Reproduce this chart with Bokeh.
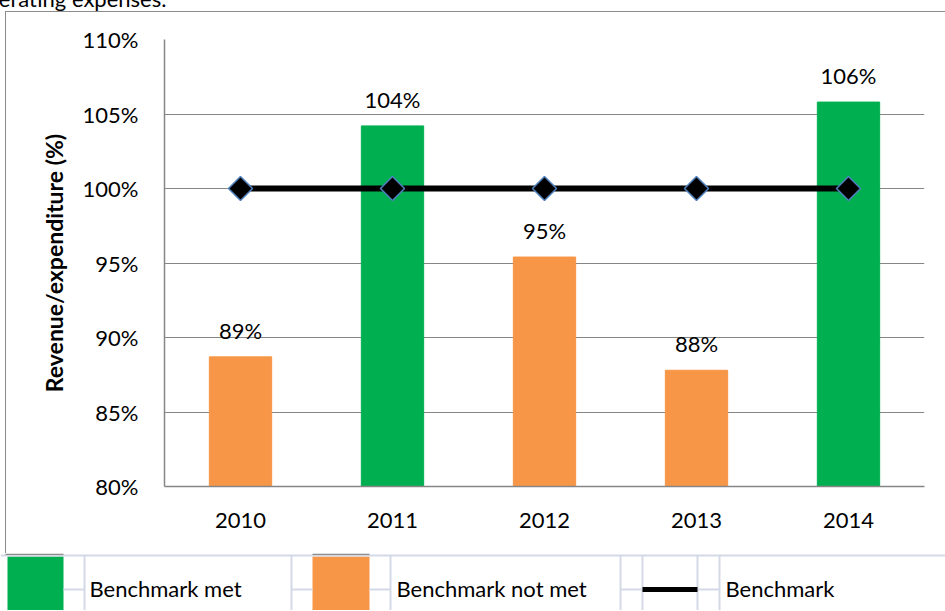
from bokeh.plotting import figure
from bokeh.models import (FactorRange, Range1d, PrintfTickFormatter, FixedTicker,
                          ColumnDataSource, LabelSet, Div)
from bokeh.layouts import column
from bokeh.embed import file_html
from bokeh.resources import INLINE
from bokeh.core.properties import value

# ---- data ----
years = ["2010", "2011", "2012", "2013", "2014"]
ratios = [88.7, 104.2, 95.4, 87.8, 105.8]
ratio_labels = ["89%", "104%", "95%", "88%", "106%"]
benchmark = [100, 100, 100, 100, 100]
status = ["Benchmark not met", "Benchmark met", "Benchmark not met",
          "Benchmark not met", "Benchmark met"]
legend_labels = ["Benchmark met", "Benchmark not met", "Benchmark"]
y_ticks = [80, 85, 90, 95, 100, 105, 110]
y_title = "Revenue/expenditure (%)"
top_text = "operating expenses."

# ---- styles ----
FONT = "Lato"
GREEN = "#00b050"
ORANGE = "#f79646"
GRID = "#868686"
TABLE = "#d3dae6"
status_color = {"Benchmark met": GREEN, "Benchmark not met": ORANGE}
colors = [status_color[s] for s in status]

src = ColumnDataSource(dict(years=years, ratios=ratios, labels=ratio_labels,
                            colors=colors, bench=benchmark))

p = figure(x_range=FactorRange(*years), y_range=Range1d(80, 110),
           width=940, height=542, output_backend="svg", toolbar_location=None,
           min_border_left=158, min_border_right=22, min_border_top=27,
           min_border_bottom=68, margin=(0, 0, 0, 5))
p.frame_align = False
p.styles = {"border-top": "1.5px solid #8c8c8c", "border-left": "1.5px solid #8c8c8c",
            "box-sizing": "border-box"}
p.outline_line_color = None
p.background_fill_color = "white"
p.border_fill_color = "white"

p.vbar(x="years", top="ratios", bottom=80, width=0.41, color="colors", source=src)
p.line(x="years", y="bench", line_color="black", line_width=6, source=src)
p.scatter(x="years", y="bench", marker="square", angle=0.7854, size=17,
          fill_color="black", line_color="#4f81bd", line_width=1.5, source=src)

labels = LabelSet(x="years", y="ratios", text="labels", source=src, y_offset=18,
                  text_align="center", text_baseline="alphabetic",
                  text_font=value(FONT), text_font_size="22px", text_color="black")
p.add_layout(labels)

p.xgrid.grid_line_color = None
p.ygrid.grid_line_color = GRID
p.ygrid.grid_line_width = 1.2

p.yaxis.ticker = FixedTicker(ticks=y_ticks)
p.yaxis.formatter = PrintfTickFormatter(format="%d%%")
p.yaxis.axis_label = y_title
p.yaxis.axis_label_text_font = FONT
p.yaxis.axis_label_text_font_style = "bold"
p.yaxis.axis_label_text_font_size = "23px"
p.yaxis.axis_label_text_color = "black"
p.yaxis.axis_label_standoff = 12
p.yaxis.major_label_standoff = 20
for ax in (p.xaxis, p.yaxis):
    ax.axis_line_color = GRID
    ax.axis_line_width = 1.5
    ax.major_tick_line_color = None
    ax.minor_tick_line_color = None
    ax.major_label_text_font = FONT
    ax.major_label_text_font_size = "22px"
    ax.major_label_text_color = "black"
p.xaxis.major_label_standoff = 20

# ---- legend table below ----
L_X0, L_X1 = 0, 945
L_Y0, L_Y1 = 553, 610
lg = figure(x_range=Range1d(L_X0, L_X1), y_range=Range1d(L_Y1, L_Y0),
            width=945, height=57, output_backend="svg", toolbar_location=None,
            min_border=0, min_border_left=0, min_border_right=0,
            min_border_top=0, min_border_bottom=0)
lg.frame_align = False
lg.axis.visible = False
lg.grid.grid_line_color = None
lg.outline_line_color = None

swatch_left = [7, 312]
swatch_right = [63, 369]
lg.quad(left=swatch_left, right=swatch_right, top=[556, 556], bottom=[615, 615],
        fill_color=[GREEN, ORANGE], line_color=None)
# table lines
lg.segment(x0=[L_X0], y0=[555], x1=[L_X1], y1=[555], line_color=TABLE, line_width=2)
lg.segment(x0=[5, 312], y0=[553.7, 553.7], x1=[63, 369], y1=[553.7, 553.7],
           line_color="#8c8c8c", line_width=1.5)
vx = [84, 291, 390, 620, 642, 697, 719]
lg.segment(x0=vx, y0=[555] * len(vx), x1=vx, y1=[615] * len(vx),
           line_color=TABLE, line_width=2)
hx0 = [63, 291, 369, 620, 697]
hx1 = [84, 312, 390, 642, 719]
lg.segment(x0=hx0, y0=[589] * 5, x1=hx1, y1=[589] * 5, line_color=TABLE, line_width=2)
lg.segment(x0=[642], y0=[589], x1=[697], y1=[589], line_color="black", line_width=5)
lg.text(x=[89, 396, 725], y=[588, 588, 588], text=legend_labels,
        text_font=value(FONT), text_font_size="22px", text_color="black",
        text_baseline="middle", text_align="left")

top = Div(text=('<div style="position:relative; left:-26px; top:-14px; '
                'white-space:nowrap; font-family:Lato; font-size:22px; '
                'line-height:26px; color:black;">' + top_text + '</div>'),
          width=400, height=11, margin=0,
          styles={"overflow": "visible"})

layout = column(top, p, lg, spacing=0)
open("out.html", "w").write(file_html(layout, INLINE))
